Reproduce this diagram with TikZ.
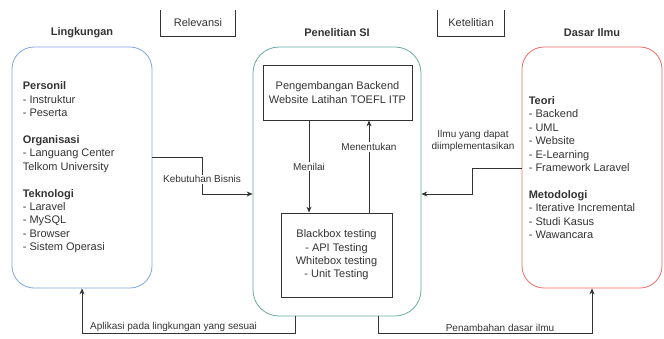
\documentclass[tikz,border=0pt]{standalone}
\usepackage{fontspec}
\setmainfont{Liberation Sans}
\usetikzlibrary{arrows.meta}
\definecolor{groupblue}{HTML}{7EA6E0}
\definecolor{groupteal}{HTML}{67AB9F}
\definecolor{groupred}{HTML}{EA6B66}
\definecolor{ink}{HTML}{333333}
\begin{document}
\begin{tikzpicture}[x=1pt,y=-1pt,>={Stealth[length=6pt,width=5pt]},
  font=\fontsize{11}{13.4}\selectfont, text=ink,
  group/.style={draw, line width=0.8pt, rounded corners=22pt, minimum width=140pt, minimum height=241pt},
  proc/.style={draw=ink, line width=0.8pt, align=center, inner sep=0pt},
  title/.style={font=\fontsize{11}{13.4}\selectfont\bfseries},
  tab/.style={minimum height=26pt, inner sep=0pt},
  lbl/.style={font=\fontsize{10}{12.4}\selectfont, inner sep=1pt, align=center},
  flow/.style={->, draw=ink, line width=0.8pt}]
\useasboundingbox (0,0) rectangle (664,338);
% top tabs
\node[tab, minimum width=74pt] (relev) at (198,23) {Relevansi};
\draw[ink, line width=0.8pt] (relev.north west) -- (relev.south west) -- (relev.south east) -- (relev.north east);
\node[tab, minimum width=66pt] (ketel) at (471,23) {Ketelitian};
\draw[ink, line width=0.8pt] (ketel.north west) -- (ketel.south west) -- (ketel.south east) -- (ketel.north east);
% groups
\node[title] (lingkTitle) at (82,33) {Lingkungan};
\node[title] (penelTitle) at (337,33) {Penelitian SI};
\node[title] (dasarTitle) at (592,33) {Dasar Ilmu};
\node[group, draw=groupblue] (lingk) at (82,167.5) {};
\node[group, draw=groupteal, minimum width=168pt, minimum height=269pt, rounded corners=26pt] (penel) at (337,181.5) {};
\node[group, draw=groupred] (dasar) at (592,167.5) {};
\node[anchor=west, align=left, inner sep=0pt] (lingkTxt) at ([xshift=11pt]lingk.west)
  {\textbf{Personil}\\- Instruktur\\- Peserta\\[13.4pt]\textbf{Organisasi}\\- Languang Center\\Telkom University\\[13.4pt]\textbf{Teknologi}\\- Laravel\\- MySQL\\- Browser\\- Sistem Operasi};
\node[anchor=west, align=left, inner sep=0pt] (dasarTxt) at ([xshift=7pt]dasar.west)
  {\textbf{Teori}\\- Backend\\- UML\\- Website\\- E-Learning\\- Framework Laravel\\[13.4pt]\textbf{Metodologi}\\- Iterative Incremental\\- Studi Kasus\\- Wawancara};
% inner boxes
\node[proc, minimum width=149pt, minimum height=55pt] (dev) at (337.5,92.5) {Pengembangan Backend\\Website Latihan TOEFL ITP};
\node[proc, minimum width=111pt, minimum height=84pt] (test) at (336.5,255) {Blackbox testing\\- API Testing\\Whitebox testing\\- Unit Testing};
\draw[flow] ([xshift=-28.5pt]dev.south) -- ([xshift=-28.5pt]dev.south |- test.north) node[lbl, midway, fill=white] {Menilai};
\draw[flow] ([xshift=32.5pt]test.north) -- ([xshift=32.5pt]test.north |- dev.south) node[lbl, pos=0.71, fill=white] {Menentukan};
% connectors between groups
\coordinate (kb1) at (202,157);
\coordinate (kb2) at (202,194);
\draw[flow] (lingk.east |- kb1) -- (kb1) -- node[lbl, pos=0.6, fill=white] {Kebutuhan Bisnis} (kb2) -- (penel.west |- kb2);
\coordinate (il1) at (472,168);
\coordinate (il2) at (472,194);
\draw[flow] (dasar.west |- il1) -- (il1) -- (il2) -- (penel.east |- il2);
\node[lbl] (ilmuLbl) at (473,141) {Ilmu yang dapat\\diimplementasikan};
\coordinate (ap1) at (295,333);
\draw[flow] (penel.south -| ap1) -- (ap1) -- node[lbl, pos=0.57, above] {Aplikasi pada lingkungan yang sesuai} (lingk.south |- ap1) -- (lingk.south);
\coordinate (pn1) at (378,333);
\draw[flow] (penel.south -| pn1) -- (pn1) -- node[lbl, pos=0.57, above] {Penambahan dasar ilmu} (dasar.south |- pn1) -- (dasar.south);
\end{tikzpicture}
\end{document}
